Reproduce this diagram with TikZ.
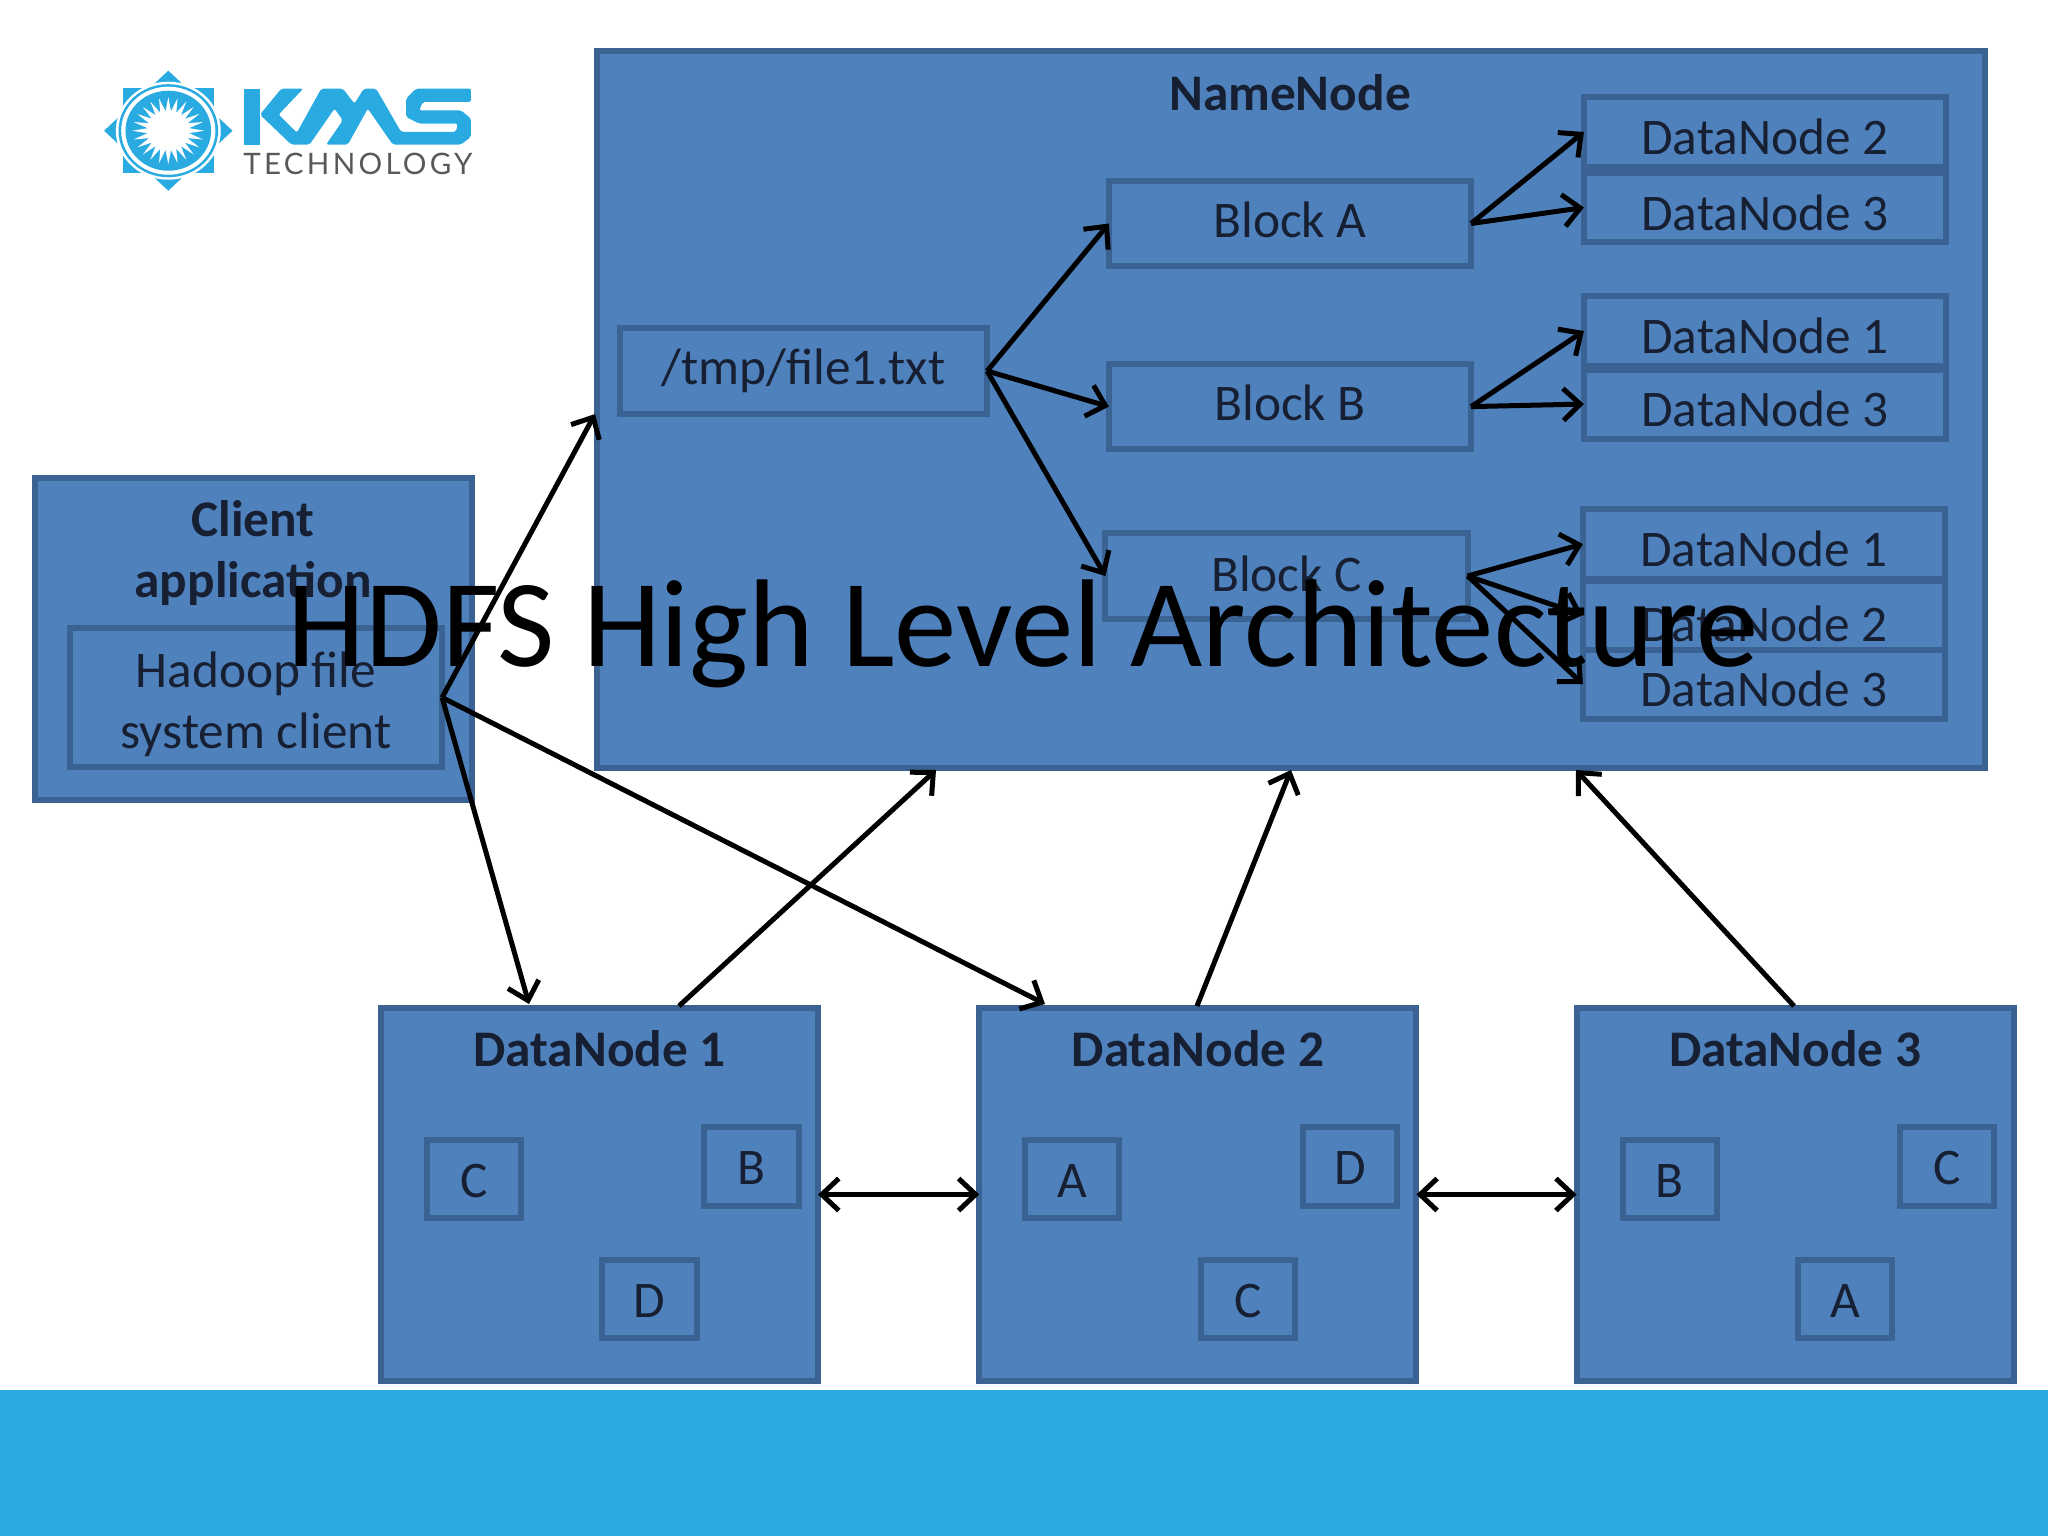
\documentclass[tikz,border=0pt]{standalone}
\usepackage{fontspec}
\setmainfont{Carlito}
\newfontfamily\logofont[LetterSpace=11]{Lato}
\usetikzlibrary{positioning,arrows.meta}
\definecolor{boxfill}{HTML}{4F81BD}
\definecolor{boxline}{HTML}{3A6293}
\definecolor{boxtext}{HTML}{172033}
\definecolor{kmsblue}{HTML}{29ABE2}
\definecolor{kmsgray}{HTML}{58595B}
\tikzset{
  >={Straight Barb[length=0.17cm,width=0.32cm]},
  box/.style={draw=boxline, fill=boxfill, line width=0.06cm, inner sep=0pt, outer sep=0pt, text=boxtext, align=center, font=\fontsize{14.6}{17.4}\selectfont},
  head/.style={text=boxtext, align=center, inner sep=0pt, font=\fontsize{14.6}{17.4}\selectfont\bfseries},
  rowbox/.style={box, minimum width=3.62cm, minimum height=0.69cm, text height=0.45cm, text depth=0pt},
  blockbox/.style={box, minimum width=3.62cm, minimum height=0.85cm, text height=0.27cm, text depth=0pt},
  dnbox/.style={box, minimum width=4.37cm, minimum height=3.73cm},
  smallbox/.style={box, minimum width=0.94cm, minimum height=0.78cm, text height=0.36cm, text depth=0pt},
  link/.style={->, line width=0.05cm, black},
  twoway/.style={<->, line width=0.05cm, black}
}
\begin{document}
\begin{tikzpicture}[x=0.01cm,y=-0.01cm]
  \useasboundingbox (0,0) rectangle (2048,1536);
  \fill[kmsblue] (0,1390) rectangle (2048,1536);

  \begin{scope}[shift={(168.3,130.7)}, xscale=1.07]
    \fill[kmsblue] (-42.5,-42.5) rectangle (42.5,42.5);
    \fill[kmsblue] (0,-60) -- (60,0) -- (0,60) -- (-60,0) -- cycle;
    \fill[white] (0,0) circle[radius=0.49cm];
    \fill[kmsblue] (0,0) circle[radius=0.465cm];
    \fill[white] (0,0) circle[radius=0.44cm];
    \fill[kmsblue] (0,0) circle[radius=0.40cm];
    \fill[white] (0,0) circle[radius=0.20cm];
    \foreach \a in {0,15,...,345}
      \fill[white] (\a-7.5:19.5) -- (\a:33.5) -- (\a+7.5:19.5) -- cycle;
  \end{scope}
  \begin{scope}[shift={(238,82)}, x=0.00333cm, y=-0.00333cm]
    \fill[kmsblue] (18,20) -- (66,20) -- (66,188) -- (18,188) -- cycle;
    \fill[kmsblue, rounded corners=0.02cm] (130,20) -- (196,20) -- (122,98) -- (177,152) -- (250,20) -- (315,20) -- (350,65) -- (378,20) -- (415,20) -- (490,150) -- (655,150) -- (660,125) -- (545,125) -- (505,105) -- (505,50) -- (535,20) -- (700,20) -- (700,60) -- (555,60) -- (545,85) -- (670,85) -- (700,110) -- (700,165) -- (670,188) -- (465,188) -- (390,80) -- (330,188) -- (265,188) -- (315,115) -- (290,80) -- (215,188) -- (160,188) -- (66,98) -- cycle;
  \end{scope}
  \node[text=kmsgray, inner sep=0pt, font=\logofont\fontsize{8.4}{9}\selectfont] (logotext) at (358,164) {TECHNOLOGY};

  \node[box, minimum width=13.87cm, minimum height=7.16cm] (nn) at (1291,409.5) {};
  \node[head] (nnlabel) at (1290,93) {NameNode};
  \node[box, minimum width=4.36cm, minimum height=3.22cm] (client) at (253.5,639) {};
  \node[head] (clientlabel) at (253,553) {Client\\application};
  \node[box, minimum width=3.72cm, minimum height=1.39cm] (hadoop) at (256,697.5) {};
  \node[align=center, text=boxtext, inner sep=0pt, font=\fontsize{14.6}{17.4}\selectfont] (hadooplabel) at (256,704) {Hadoop file\\system client};

  \node[box, minimum width=3.67cm, minimum height=0.86cm] (tmp) at (803.5,371) {/tmp/file1.txt};
  \node[blockbox] (blocka) at (1290,223.5) {Block A};
  \node[blockbox, below of=blocka, node distance=1.83cm] (blockb) {Block B};
  \node[blockbox, text height=0.31cm] (blockc) at (1286.5,576) {Block C};

  \node[rowbox] (a2) at (1765,132) {DataNode 2};
  \node[rowbox, below of=a2, node distance=0.755cm] (a3) {DataNode 3};
  \node[rowbox] (b1) at (1765,331) {DataNode 1};
  \node[rowbox, below of=b1, node distance=0.73cm] (b3) {DataNode 3};
  \node[rowbox] (c1) at (1764,544) {DataNode 1};
  \node[rowbox, below of=c1, node distance=0.71cm, text height=0.52cm] (c2) {DataNode 2};
  \node[rowbox, below of=c2, node distance=0.69cm] (c3) {DataNode 3};

  \node[dnbox] (dn1) at (599.5,1194.5) {};
  \node[dnbox, right of=dn1, node distance=5.98cm] (dn2) {};
  \node[dnbox, right of=dn2, node distance=5.97cm] (dn3) {};
  \foreach \dn/\la/\lb/\lc/\num in {dn1/C/B/D/1, dn2/A/D/C/2, dn3/B/C/A/3} {
    \node[head] (\dn label) at ([yshift=1.455cm]\dn) {DataNode \num};
    \node[smallbox] (\dn a) at ([shift={(-125.5,-15.5)}]\dn) {\la};
    \node[smallbox] (\dn b) at ([shift={(152,-28)}]\dn) {\lb};
    \node[smallbox] (\dn c) at ([shift={(50,104.5)}]\dn) {\lc};
  }

  \coordinate (nnleft) at (595,414);
  \coordinate (nnb1) at (936,770);
  \coordinate (nnb2) at (1291,770);
  \coordinate (nnb3) at (1576,770);
  \coordinate (dn1in) at (529,1004);
  \coordinate (dn2in) at (1045,1004);
  \coordinate (dn1out) at (679,1006);
  \coordinate (dn2out) at (1197,1006);
  \coordinate (dn3out) at (1794,1006);

  \draw[link] (hadoop.east) -- (nnleft);
  \draw[link] (hadoop.east) -- (dn1in);
  \draw[link] (hadoop.east) -- (dn2in);
  \draw[link] (dn1out) -- (nnb1);
  \draw[link] (dn2out) -- (nnb2);
  \draw[link] (dn3out) -- (nnb3);
  \draw[twoway] (dn1.east) -- (dn2.west);
  \draw[twoway] (dn2.east) -- (dn3.west);
  \draw[link] (tmp.east) -- (blocka.west);
  \draw[link] (tmp.east) -- (blockb.west);
  \draw[link] (tmp.east) -- (blockc.west);
  \draw[link] (blocka.east) -- (a2.west);
  \draw[link] (blocka.east) -- (a3.west);
  \draw[link] (blockb.east) -- (b1.west);
  \draw[link] (blockb.east) -- (b3.west);
  \draw[link] (blockc.east) -- (c1.west);
  \draw[link] (blockc.east) -- (c2.west);
  \draw[link] (blockc.east) -- (c3.west);

  \node[anchor=base, inner sep=0pt, font=\fontsize{35.5}{40}\selectfont] (title) at (1023,666) {HDFS High Level Architecture};
\end{tikzpicture}
\end{document}
